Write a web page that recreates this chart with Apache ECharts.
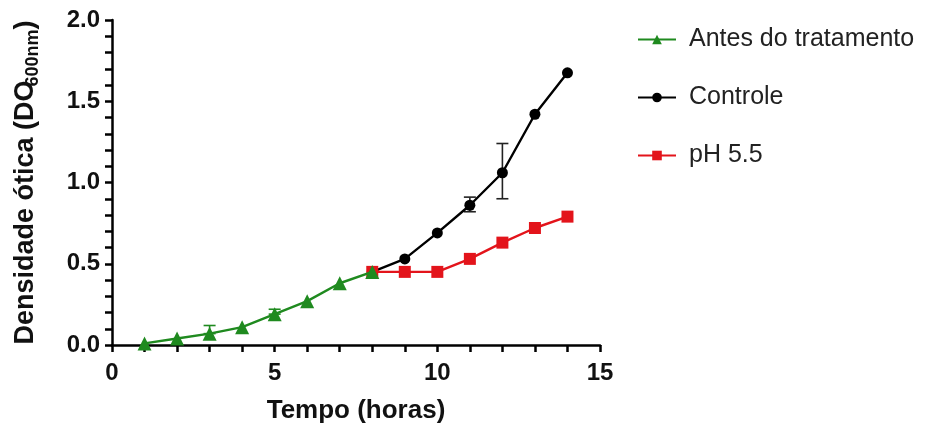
<!DOCTYPE html>
<html>
<head>
<meta charset="utf-8">
<script src="https://cdn.jsdelivr.net/npm/echarts@6/dist/echarts.min.js"></script>
<style>
  html, body { margin: 0; padding: 0; background: #fff; }
  #chart { width: 926px; height: 423px; }
</style>
</head>
<body>
<div id="chart"></div>
<script>
// Optical density growth curves (hours vs OD600)
const seriesNames = ['Antes do tratamento', 'Controle', 'pH 5.5'];

const antesHours = [1, 2, 3, 4, 5, 6, 7, 8];
const antesOD    = [0.01, 0.04, 0.07, 0.11, 0.19, 0.27, 0.38, 0.45];

const controleHours = [8, 9, 10, 11, 12, 13, 14];
const controleOD    = [0.45, 0.53, 0.69, 0.86, 1.06, 1.42, 1.675];

const phHours = [8, 9, 10, 11, 12, 13, 14];
const phOD    = [0.45, 0.45, 0.45, 0.53, 0.63, 0.72, 0.79];

// error bars: [hour, low, high]
const antesErr    = [[3, 0.07, 0.12], [5, 0.19, 0.22]];
const controleErr = [[11, 0.82, 0.91], [12, 0.90, 1.24]];

const xTicks = { min: 0, max: 15, interval: 5 };
const yTicks = { min: 0, max: 2, interval: 0.5 };

const colors = { antes: '#1f8a1f', controle: '#000000', ph: '#e3141b' };

function pairs(xs, ys) { return xs.map((x, i) => [x, ys[i]]); }

function errorBarSeries(data, color) {
  return {
    type: 'custom',
    data: data,
    z: 1,
    silent: true,
    encode: { x: 0, y: [1, 2] },
    renderItem: function (params, api) {
      const x = api.value(0);
      const lo = api.coord([x, api.value(1)]);
      const hi = api.coord([x, api.value(2)]);
      const cap = 6;
      const style = { stroke: color, lineWidth: 1.6 };
      return {
        type: 'group',
        children: [
          { type: 'line', shape: { x1: lo[0], y1: lo[1], x2: hi[0], y2: hi[1] }, style: style },
          { type: 'line', shape: { x1: hi[0] - cap, y1: hi[1], x2: hi[0] + cap, y2: hi[1] }, style: style },
          { type: 'line', shape: { x1: lo[0] - cap, y1: lo[1], x2: lo[0] + cap, y2: lo[1] }, style: style }
        ]
      };
    }
  };
}

const chart = echarts.init(document.getElementById('chart'), null, { renderer: 'canvas' });

const axisFont = 'Arial, "Liberation Sans", sans-serif';

chart.setOption({
  animation: false,
  backgroundColor: '#ffffff',
  grid: { left: 112, right: 326, top: 20, bottom: 78, containLabel: false, outerBoundsMode: 'none' },
  legend: {
    orient: 'vertical',
    left: 632,
    top: 22,
    itemGap: 33,
    itemWidth: 38,
    itemHeight: 12,
    data: seriesNames,
    textStyle: { fontFamily: axisFont, fontSize: 25, color: '#222', padding: [0, 0, 0, 8] }
  },
  xAxis: {
    type: 'value',
    min: xTicks.min,
    max: xTicks.max,
    interval: xTicks.interval,
    name: 'Tempo (horas)',
    nameLocation: 'middle',
    nameGap: 53,
    nameTextStyle: { fontFamily: axisFont, fontSize: 26, fontWeight: 'bold', color: '#111' },
    axisLine: { onZero: false, lineStyle: { color: '#000', width: 2.5 } },
    axisTick: { length: 7, lineStyle: { color: '#000', width: 2.5 } },
    minorTick: { show: true, splitNumber: 5, length: 7, lineStyle: { color: '#000', width: 2.5 } },
    axisLabel: { fontFamily: axisFont, fontSize: 24, fontWeight: 'bold', color: '#111', margin: 16 },
    splitLine: { show: false }
  },
  yAxis: {
    type: 'value',
    min: yTicks.min,
    max: yTicks.max,
    interval: yTicks.interval,
    name: '{m|Densidade ótica (DO}{s|600nm}{m|)}',
    nameLocation: 'middle',
    nameGap: 70,
    nameRotate: 90,
    nameTextStyle: {
      fontFamily: axisFont, fontSize: 27, fontWeight: 'bold', color: '#111',
      rich: {
        m: { fontFamily: axisFont, fontSize: 27, fontWeight: 'bold', color: '#111', lineHeight: 32, verticalAlign: 'middle' },
        s: { fontFamily: axisFont, fontSize: 18, fontWeight: 'bold', color: '#111', lineHeight: 32, verticalAlign: 'bottom', padding: [16, 0, 0, -6] }
      }
    },
    axisLine: { show: true, lineStyle: { color: '#000', width: 2.5 } },
    axisTick: { show: true, length: 7, lineStyle: { color: '#000', width: 2.5 } },
    minorTick: { show: true, splitNumber: 5, length: 7, lineStyle: { color: '#000', width: 2.5 } },
    axisLabel: {
      fontFamily: axisFont, fontSize: 24, fontWeight: 'bold', color: '#111', margin: 12,
      formatter: v => v.toFixed(1)
    },
    splitLine: { show: false }
  },
  series: [
    {
      name: seriesNames[1],
      type: 'line',
      data: pairs(controleHours, controleOD),
      color: colors.controle,
      symbol: 'circle',
      symbolSize: 11,
      z: 3,
      lineStyle: { width: 2.4, color: colors.controle },
      itemStyle: { color: colors.controle }
    },
    {
      name: seriesNames[2],
      type: 'line',
      data: pairs(phHours, phOD),
      color: colors.ph,
      symbol: 'rect',
      symbolSize: 12,
      z: 3,
      lineStyle: { width: 2.4, color: colors.ph },
      itemStyle: { color: colors.ph }
    },
    {
      name: seriesNames[0],
      type: 'line',
      data: pairs(antesHours, antesOD),
      color: colors.antes,
      symbol: 'triangle',
      symbolSize: 14,
      z: 4,
      lineStyle: { width: 2.4, color: colors.antes },
      itemStyle: { color: colors.antes }
    },
    errorBarSeries(antesErr, colors.antes),
    errorBarSeries(controleErr, '#222')
  ]
});
</script>
</body>
</html>
